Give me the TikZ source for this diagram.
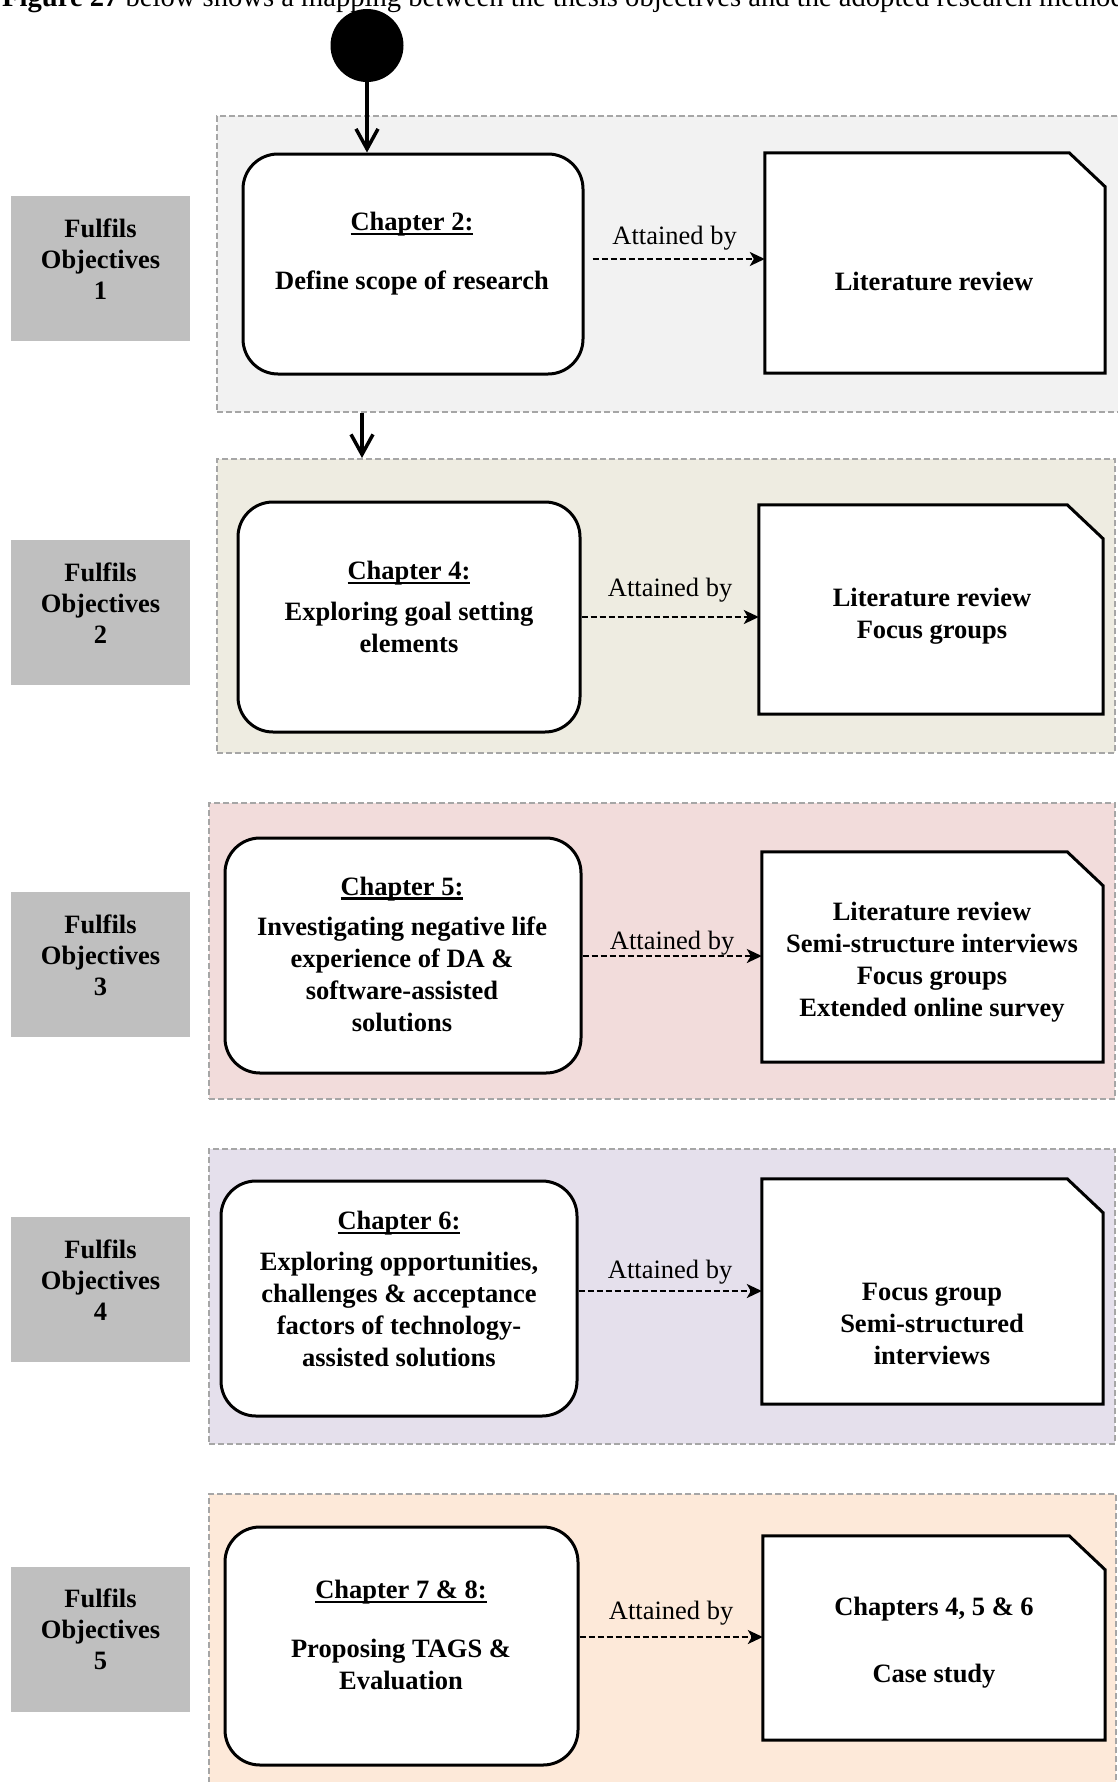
\documentclass[tikz,border=0pt]{standalone}
\usepackage{fontspec}
\setmainfont{Liberation Serif}
\usetikzlibrary{arrows.meta}

\definecolor{grpline}{HTML}{A6A6A6}
\definecolor{objgray}{HTML}{BFBFBF}
\definecolor{bgA}{HTML}{F2F2F2}
\definecolor{bgB}{HTML}{EEECE1}
\definecolor{bgC}{HTML}{F2DCDB}
\definecolor{bgD}{HTML}{E5E0EC}
\definecolor{bgE}{HTML}{FDE9D9}

% heading underline, a little heavier than \underline
\newcommand{\chapul}[1]{\setbox0=\hbox{#1}\rlap{\rule[-4.5pt]{\wd0}{2.2pt}}\box0}

\tikzset{
  every node/.style={font=\fontsize{26.5pt}{32pt}\selectfont},
  group/.style={draw=grpline, line width=2pt, dash pattern=on 6pt off 3pt,
    inner sep=0pt, minimum width=#1},
  objbox/.style={fill=objgray, inner sep=0pt, minimum width=179pt, minimum height=145pt},
  objtext/.style={font=\fontsize{26.5pt}{31pt}\selectfont\bfseries, align=center, inner sep=0pt},
  chapbox/.style={draw, fill=white, line width=3pt, rounded corners=35pt, inner sep=0pt},
  boxtext/.style={font=\fontsize{26.5pt}{32pt}\selectfont\bfseries, align=center, inner sep=0pt},
  docnode/.style={inner sep=0pt},
  docline/.style={draw, fill=white, line width=3pt, line join=miter},
  attained/.style={-{Stealth[length=15pt,width=14pt,inset=4pt]}, line width=2pt,
    dash pattern=on 6pt off 3pt},
  lbl/.style={font=\fontsize{26.5pt}{32pt}\selectfont, inner sep=0pt, anchor=base},
  flow/.style={-{Straight Barb[length=20pt,width=22pt,line width=3.5pt]}, line width=3.3pt},
}

% document shape with a cut top-right corner, drawn round a named node
\newcommand{\docshape}[1]{%
  \path[docline] (#1.south west) -- (#1.north west)
    -- ([xshift=-36pt]#1.north east) -- ([yshift=-34pt]#1.north east)
    -- (#1.south east) -- cycle;}

\begin{document}
\begin{tikzpicture}[x=1pt, y=-1pt]
\useasboundingbox (0,0) rectangle (1118,1782);
\clip (0,0) rectangle (1118,1782);

% running text above the figure
\node[anchor=base west, inner sep=0pt, font=\fontsize{28.6pt}{34pt}\selectfont] (caption) at (2,7)
  {\textbf{Figure 27} below shows a mapping between the thesis objectives and the adopted research methodology.};

% start marker
\node[circle, fill=black, minimum size=73pt, inner sep=0pt] (start) at (367,45.5) {};
\coordinate (join) at (362,0);

% ---------- group backgrounds ----------
\node[group=905pt, fill=bgA, minimum height=296pt] (g1) at (669.5,264) {};
\node[group=898pt, fill=bgB, minimum height=294pt] (g2) at (666,606) {};
\node[group=906pt, fill=bgC, minimum height=296pt] (g3) at (662,951) {};
\node[group=906pt, fill=bgD, minimum height=295pt] (g4) at (662,1296.5) {};
\node[group=907pt, fill=bgE, minimum height=306pt] (g5) at (662.5,1647) {};

% ---------- objective labels ----------
\node[objbox] (f1) at (100.5,268) {};
\node[objtext] (f1t) at (100.5,259) {Fulfils\\Objectives\\1};
\node[objbox] (f2) at (100.5,612.5) {};
\node[objtext] (f2t) at (100.5,603) {Fulfils\\Objectives\\2};
\node[objbox] (f3) at (100.5,964) {};
\node[objtext] (f3t) at (100.5,955) {Fulfils\\Objectives\\3};
\node[objbox] (f4) at (100.5,1289) {};
\node[objtext] (f4t) at (100.5,1280) {Fulfils\\Objectives\\4};
\node[objbox] (f5) at (100.5,1639.5) {};
\node[objtext] (f5t) at (100.5,1629) {Fulfils\\Objectives\\5};

% ---------- chapter boxes ----------
\node[chapbox, minimum width=340pt, minimum height=220pt] (c1) at (413,264) {};
\node[boxtext] (c1t) at (412,254) {\chapul{Chapter 2:}\\[27pt]Define scope of research};
\node[chapbox, minimum width=342pt, minimum height=230pt] (c2) at (409,617) {};
\node[boxtext] (c2t) at (409,607) {\chapul{Chapter 4:}\\[9pt]Exploring goal setting\\elements};
\node[chapbox, minimum width=356pt, minimum height=235pt] (c3) at (403,955.5) {};
\node[boxtext] (c3t) at (402,954) {\chapul{Chapter 5:}\\[8pt]Investigating negative life\\experience of DA \&\\software-assisted\\solutions};
\node[chapbox, minimum width=356pt, minimum height=235pt] (c4) at (399,1298.5) {};
\node[boxtext] (c4t) at (399,1289) {\chapul{Chapter 6:}\\[9pt]Exploring opportunities,\\challenges \& acceptance\\factors of technology-\\assisted solutions};
\node[chapbox, minimum width=353pt, minimum height=238pt] (c5) at (401.5,1646) {};
\node[boxtext] (c5t) at (401,1635) {\chapul{Chapter 7 \& 8:}\\[27pt]Proposing TAGS \&\\Evaluation};

% ---------- method boxes ----------
\node[docnode, minimum width=340pt, minimum height=220pt] (d1) at (935,263) {};
\docshape{d1}
\node[boxtext] (d1t) at (934,281) {Literature review};
\node[docnode, minimum width=344pt, minimum height=209pt] (d2) at (931,609.5) {};
\docshape{d2}
\node[boxtext] (d2t) at (932,616) {Literature review\\Focus groups};
\node[docnode, minimum width=341pt, minimum height=210pt] (d3) at (932.5,957) {};
\docshape{d3}
\node[boxtext] (d3t) at (932,962) {Literature review\\Semi-structure interviews\\Focus groups\\Extended online survey};
\node[docnode, minimum width=341pt, minimum height=225pt] (d4) at (932.5,1291.5) {};
\docshape{d4}
\node[boxtext] (d4t) at (932,1324) {Focus group\\Semi-structured\\interviews};
\node[docnode, minimum width=342pt, minimum height=204pt] (d5) at (934,1638) {};
\docshape{d5}
\node[boxtext] (d5t) at (934,1643) {Chapters 4, 5 \& 6\\[35pt]Case study};

% ---------- flow ----------
\draw[flow] (start.south) -- (start.south |- c1.north);
\draw[flow] (g1.south -| join) -- (g2.north -| join);

% ---------- attained-by connectors ----------
\coordinate (a1) at (0,259);
\coordinate (a2) at (0,617);
\coordinate (a3) at (0,956);
\coordinate (a4) at (0,1291);
\coordinate (a5) at (0,1637);
\draw[attained, shorten <=8pt] (c1.east |- a1) -- node[lbl, yshift=15pt] {Attained by} (d1.west |- a1);
\draw[attained] (c2.east |- a2) -- node[lbl, yshift=21pt] {Attained by} (d2.west |- a2);
\draw[attained] (c3.east |- a3) -- node[lbl, yshift=7pt] {Attained by} (d3.west |- a3);
\draw[attained] (c4.east |- a4) -- node[lbl, yshift=13pt] {Attained by} (d4.west |- a4);
\draw[attained] (c5.east |- a5) -- node[lbl, yshift=18pt] {Attained by} (d5.west |- a5);
\end{tikzpicture}
\end{document}
